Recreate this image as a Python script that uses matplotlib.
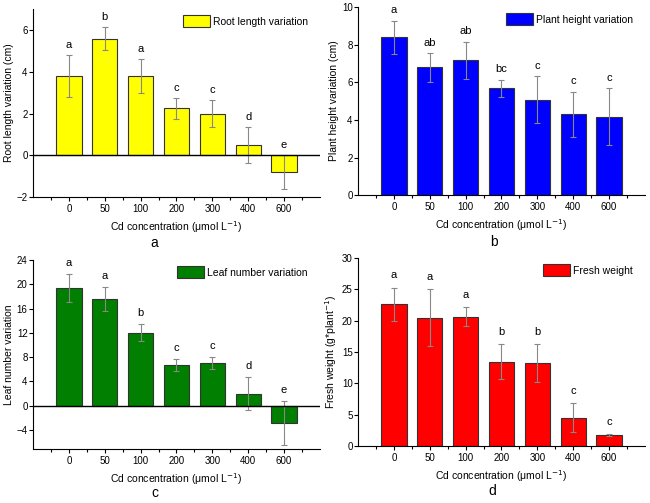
import matplotlib
matplotlib.use('Agg')
import matplotlib.pyplot as plt
import numpy as np

plt.rcParams['font.family'] = ['Liberation Sans', 'DejaVu Sans']

# concentraciones (etiquetas del eje x)
conc = ['0', '50', '100', '200', '300', '400', '600']

# a - longitud de raíz
root_len = [3.8, 5.58, 3.8, 2.25, 1.99, 0.49, -0.81]
root_err = [1.0, 0.55, 0.8, 0.5, 0.65, 0.85, 0.82]
root_let = ['a', 'b', 'a', 'c', 'c', 'd', 'e']

# b - altura de planta
height = [8.39, 6.79, 7.16, 5.69, 5.07, 4.29, 4.18]
height_err = [0.88, 0.75, 0.98, 0.45, 1.25, 1.2, 1.5]
height_let = ['a', 'ab', 'ab', 'bc', 'c', 'c', 'c']

# c - número de hojas
leaves = [19.35, 17.53, 12.0, 6.67, 6.95, 1.98, -2.87]
leaves_err = [2.3, 2.0, 1.4, 0.95, 1.0, 2.7, 3.6]
leaves_let = ['a', 'a', 'b', 'c', 'c', 'd', 'e']

# d - peso fresco
fresh = [22.64, 20.5, 20.67, 13.48, 13.27, 4.53, 1.76]
fresh_err = [2.66, 4.5, 1.5, 2.8, 3.0, 2.3, 0.1]
fresh_let = ['a', 'a', 'a', 'b', 'b', 'c', 'c']

fig = plt.figure(figsize=(6.5, 5.03), dpi=100)

# (ejes, datos, errores, letras, color, leyenda, etiqueta y, límites y, ticks y, panel, posición panel, offset letras)
panels = [
    ([0.051, 0.608, 0.441, 0.374], root_len, root_err, root_let, '#ffff00',
     'Root length variation', 'Root length variation (cm)', (-2, 7), [-2, 0, 2, 4, 6],
     'a', (0.238, 0.517), 0.25),
    ([0.551, 0.612, 0.441, 0.374], height, height_err, height_let, '#0000ff',
     'Plant height variation', 'Plant height variation (cm)', (0, 10), [0, 2, 4, 6, 8, 10],
     'b', (0.760, 0.519), 0.3),
    ([0.051, 0.107, 0.441, 0.376], leaves, leaves_err, leaves_let, '#007f00',
     'Leaf number variation', 'Leaf number variation', (-7.2, 24), [-4, 0, 4, 8, 12, 16, 20, 24],
     'c', (0.238, 0.019), 1.0),
    ([0.551, 0.113, 0.441, 0.374], fresh, fresh_err, fresh_let, '#ff0000',
     'Fresh weight', 'Fresh weight (g*plant$^{-1}$)', (0, 30), [0, 5, 10, 15, 20, 25, 30],
     'd', (0.758, 0.023), 1.2),
]

x = np.arange(len(conc))
for pos, vals, errs, lets, col, leg, ylab, ylim, yt, tag, tagpos, off in panels:
    ax = fig.add_axes(pos)
    ax.bar(x, vals, width=0.7, color=col, edgecolor='#333333', linewidth=0.8, label=leg, zorder=2)
    ax.errorbar(x, vals, yerr=errs, fmt='none', ecolor='#888888', elinewidth=0.8,
                capsize=2, capthick=0.8, zorder=3)
    for xi, v, e, l in zip(x, vals, errs, lets):
        ytxt = max(v + e, 0) + off
        ax.text(xi, ytxt, l, ha='center', va='bottom', fontsize=8)
    if ylim[0] < 0:
        ax.axhline(0, color='black', linewidth=1.0, zorder=4)
    ax.set_xlim(-1, 7)
    ax.set_ylim(*ylim)
    ax.set_yticks(yt)
    ax.set_xticks(x)
    ax.set_xticklabels(conc)
    ax.set_xticks(np.arange(-0.5, 7, 1), minor=True)
    ax.tick_params(axis='both', labelsize=7, direction='out', length=3, width=0.8, pad=2)
    ax.tick_params(axis='y', pad=1)
    ax.tick_params(axis='x', which='minor', length=2, width=0.8)
    ax.spines['top'].set_visible(False)
    ax.spines['right'].set_visible(False)
    ax.set_ylabel(ylab, fontsize=7.5, labelpad=2)
    ax.set_xlabel('Cd concentration (μmol L$^{-1}$)', fontsize=7.5, labelpad=4)
    ax.legend(loc='upper right', bbox_to_anchor=(0.98, 1.0), frameon=False, fontsize=7.5,
              handlelength=2.6, handleheight=1.4, borderaxespad=0.2, handletextpad=0.3)
    fig.text(tagpos[0], tagpos[1], tag, ha='center', va='center', fontsize=10)

fig.savefig('out.png', dpi=100)
